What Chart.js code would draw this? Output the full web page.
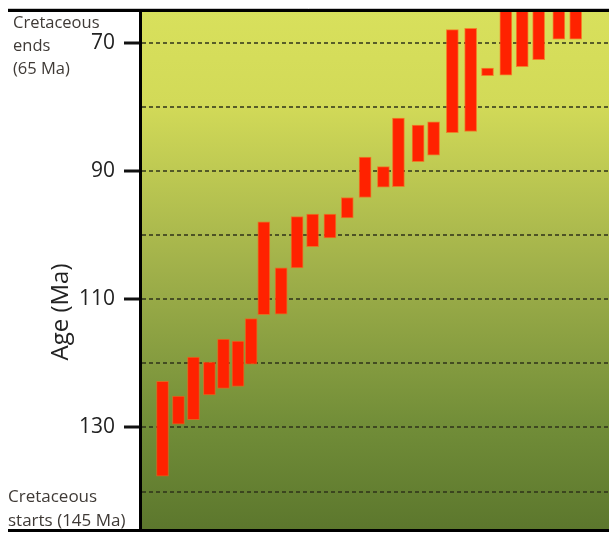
<!DOCTYPE html>
<html>
<head>
<meta charset="utf-8">
<script src="https://cdn.jsdelivr.net/npm/chart.js@4/dist/chart.umd.min.js"></script>
<style>
  html, body { margin: 0; padding: 0; background: #ffffff; }
  #wrap { width: 609px; height: 533px; }
</style>
</head>
<body>
<div id="wrap"><canvas id="c" width="609" height="533"></canvas></div>
<script>
// Sample positions along the (unlabelled) horizontal axis, arbitrary units 0-100
const positions = [4.8, 8.2, 11.4, 14.8, 17.8, 20.9, 23.7, 26.4, 30.1, 33.5, 36.8, 40.5, 44.2,
                   48.0, 51.9, 55.1, 59.3, 62.6, 66.6, 70.5, 74.1, 78.0, 81.5, 85.0, 89.3, 92.9];
// Youngest age of each range (Ma)
const ageYoung = [122.8, 125.1, 119.0, 119.8, 116.2, 116.5, 113.0, 97.9, 105.1, 97.1, 96.7, 96.7, 94.1,
                  87.8, 89.3, 81.7, 82.8, 82.3, 67.9, 67.7, 73.9, 65.0, 65.0, 65.0, 65.0, 65.0];
// Oldest age of each range (Ma)
const ageOld = [137.6, 129.5, 128.8, 124.9, 123.9, 123.6, 120.1, 112.4, 112.3, 105.1, 101.8, 100.4, 97.3,
                94.1, 92.5, 92.4, 88.5, 87.5, 84.0, 83.8, 75.1, 75.0, 73.7, 72.6, 69.4, 69.4];
// Labelled ticks
const tickLabels = [70, 90, 110, 130];
const yTitle = 'Age (Ma)';
const noteTop = ['Cretaceous', 'ends', '(65 Ma)'];
const noteBottom = ['Cretaceous', 'starts (145 Ma)'];

const data = positions.map((x, i) => ({ x: x, y: [ageYoung[i], ageOld[i]] }));

const decor = {
  id: 'decor',
  beforeDraw(chart) {
    const { ctx, chartArea: a } = chart;
    const g = ctx.createLinearGradient(0, a.top, 0, a.bottom);
    g.addColorStop(0, '#d8e05c');
    g.addColorStop(0.18, '#d2da58');
    g.addColorStop(0.5, '#a0b04a');
    g.addColorStop(0.8, '#718d38');
    g.addColorStop(1, '#5c772d');
    ctx.save();
    ctx.fillStyle = g;
    ctx.fillRect(a.left, a.top, a.right - a.left, a.bottom - a.top);
    ctx.restore();
  },
  afterDraw(chart) {
    const { ctx } = chart;
    ctx.save();
    // frame lines
    ctx.strokeStyle = '#c8c8c8';
    ctx.lineWidth = 1;
    ctx.beginPath(); ctx.moveTo(8, 8.5); ctx.lineTo(609, 8.5); ctx.stroke();
    ctx.strokeStyle = '#000';
    ctx.lineWidth = 3;
    ctx.beginPath(); ctx.moveTo(8, 10.5); ctx.lineTo(609, 10.5); ctx.stroke();
    ctx.beginPath(); ctx.moveTo(8, 530.5); ctx.lineTo(609, 530.5); ctx.stroke();
    // notes
    ctx.fillStyle = '#3f3a36';
    ctx.font = '16.5px "Open Sans", sans-serif';
    ctx.textAlign = 'left';
    ctx.textBaseline = 'middle';
    noteTop.forEach((t, i) => ctx.fillText(t, 13, 23 + i * 23));
    ctx.font = '17px "Open Sans", sans-serif';
    noteBottom.forEach((t, i) => ctx.fillText(t, 8, 497 + i * 24));
    // axis title
    ctx.fillStyle = '#222';
    ctx.font = '24px "Open Sans", sans-serif';
    ctx.textAlign = 'center';
    ctx.translate(61, 312);
    ctx.rotate(-Math.PI / 2);
    ctx.fillText(yTitle, 0, 0);
    ctx.restore();
  }
};

new Chart(document.getElementById('c'), {
  type: 'bar',
  data: {
    datasets: [{
      data: data,
      backgroundColor: '#ff2200',
      borderColor: 'rgba(255,90,20,0.7)',
      borderWidth: 1,
      borderSkipped: false,
      barThickness: 12
    }]
  },
  options: {
    responsive: false,
    devicePixelRatio: 1,
    animation: false,
    layout: { padding: { top: 11, right: 0, bottom: 3, left: 0 } },
    plugins: { legend: { display: false }, tooltip: { enabled: false } },
    scales: {
      x: {
        type: 'linear',
        min: 0,
        max: 100,
        offset: false,
        display: false
      },
      y: {
        type: 'linear',
        reverse: true,
        min: 65,
        max: 146,
        afterFit(s) { s.width = 140; s.paddingTop = 0; s.paddingBottom = 0; },
        ticks: {
          stepSize: 10,
          autoSkip: false,
          padding: 9,
          color: '#222',
          font: { family: '"Open Sans", sans-serif', size: 21 },
          callback: (v) => tickLabels.includes(v) ? String(v) : ''
        },
        grid: {
          drawOnChartArea: true,
          drawTicks: true,
          tickLength: 16,
          tickWidth: 3,
          tickColor: (c) => (c.tick && tickLabels.includes(c.tick.value)) ? '#111' : 'transparent',
          color: (c) => (c.tick && c.tick.value % 10 === 0) ? 'rgba(45,50,25,0.75)' : 'transparent',
          lineWidth: 2
        },
        border: {
          display: true,
          color: '#000',
          width: 3,
          dash: [4, 3]
        }
      }
    }
  },
  plugins: [decor]
});
</script>
</body>
</html>
